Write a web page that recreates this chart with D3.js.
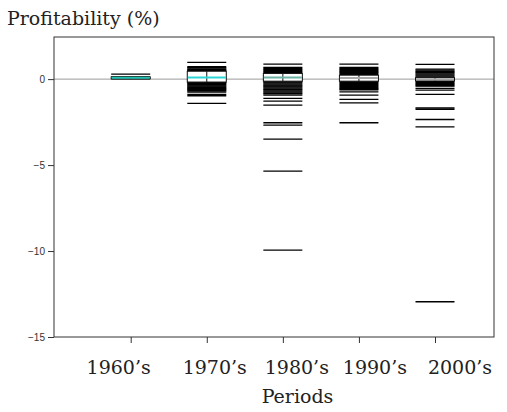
<!DOCTYPE html>
<html>
<head>
<meta charset="utf-8">
<script src="https://cdn.jsdelivr.net/npm/d3@7"></script>
<style>
  body { margin: 0; background: #fff; }
  svg { display: block; }
  .serif { font-family: "DejaVu Serif", serif; fill: #222; }
</style>
</head>
<body>
<svg id="chart" width="507" height="412"></svg>
<script>
// periods and per-firm profitability values (%)
const periods = ["1960’s", "1970’s", "1980’s", "1990’s", "2000’s"];

const values1960 = [0.29, 0.13, 0.08, 0.02];
const values1970 = [0.97, 0.72, 0.66, 0.6, 0.55, 0.5, 0.46, 0.3, 0.1, -0.05, -0.17, -0.2, -0.25, -0.3,
  -0.35, -0.4, -0.45, -0.5, -0.55, -0.6, -0.65, -0.7, -0.76, -0.89, -0.97, -1.41];
const values1980 = [0.87, 0.68, 0.62, 0.57, 0.51, 0.45, 0.4, 0.35, 0.2, 0.1, 0.0, -0.12, -0.17, -0.22,
  -0.28, -0.34, -0.4, -0.45, -0.51, -0.57, -0.62, -0.68, -0.74, -0.8, -0.85, -0.93, -1.12, -1.28,
  -1.51, -2.54, -2.68, -3.49, -5.35, -9.95];
const values1990 = [0.87, 0.68, 0.62, 0.57, 0.51, 0.45, 0.4, 0.34, 0.28, 0.2, 0.05, -0.1, -0.14, -0.2,
  -0.26, -0.32, -0.38, -0.44, -0.5, -0.56, -0.62, -0.74, -0.93, -1.18, -1.38, -2.54];
const values2000 = [0.86, 0.58, 0.52, 0.46, 0.4, 0.35, 0.29, 0.23, 0.17, 0.12, 0.08, 0.0, -0.1, -0.15,
  -0.2, -0.26, -0.31, -0.37, -0.41, -0.54, -0.64, -0.89, -1.68, -1.75, -2.35, -2.78, -12.95];

// box summary: lower quartile, median, upper quartile
const q1s = [0.02, -0.17, -0.12, -0.12, -0.1];
const medians = [0.08, 0.1, 0.1, 0.06, -0.02];
const q3s = [0.13, 0.46, 0.33, 0.23, 0.08];
const medianColors = ['#1fbfb0', '#2cd6d6', '#6cb3a6', '#a8a8a8', '#a8a8a8'];

const yTicks = [0, -5, -10, -15];
const labelNudge = [-12, 8, 14, 16, 25];   // the period labels sit off their ticks

const allValues = [values1960, values1970, values1980, values1990, values2000];

const svg = d3.select('#chart');
const plotLeft = 54, plotRight = 494, plotTop = 37, plotBottom = 337;
const halfW = 19.5;

const x = d3.scalePoint().domain(periods).range([130.7, 435]);
const y = d3.scaleLinear().domain([-15, 2.45]).range([plotBottom, plotTop]);

// zero reference line (behind marks)
svg.append('line')
  .attr('x1', plotLeft).attr('x2', plotRight)
  .attr('y1', y(0)).attr('y2', y(0))
  .attr('stroke', '#9a9a9a').attr('stroke-width', 1);

// one dash per observation
const groups = svg.selectAll('.period')
  .data(periods)
  .join('g')
  .attr('class', 'period');

groups.each(function(p, i) {
  const g = d3.select(this);
  const cx = x(p);
  g.selectAll('.obs')
    .data(allValues[i])
    .join('line')
    .attr('class', 'obs')
    .attr('x1', cx - halfW).attr('x2', cx + halfW)
    .attr('y1', d => y(d)).attr('y2', d => y(d))
    .attr('stroke', '#000').attr('stroke-width', 1.35);

  // box
  g.append('rect')
    .attr('x', cx - halfW)
    .attr('y', y(q3s[i]))
    .attr('width', halfW * 2)
    .attr('height', y(q1s[i]) - y(q3s[i]))
    .attr('fill', '#fff')
    .attr('stroke', '#111').attr('stroke-width', 1);
  g.append('line')
    .attr('x1', cx).attr('x2', cx)
    .attr('y1', y(q3s[i])).attr('y2', y(q1s[i]))
    .attr('stroke', '#111').attr('stroke-width', 1);
  g.append('line')
    .attr('x1', cx - halfW + 0.5).attr('x2', cx + halfW - 0.5)
    .attr('y1', y(medians[i])).attr('y2', y(medians[i]))
    .attr('stroke', medianColors[i]).attr('stroke-width', 2);
});

// frame
svg.append('rect')
  .attr('x', plotLeft).attr('y', plotTop)
  .attr('width', plotRight - plotLeft).attr('height', plotBottom - plotTop)
  .attr('fill', 'none').attr('stroke', '#333').attr('stroke-width', 1);

// axes
const yAxis = svg.append('g')
  .attr('transform', `translate(${plotLeft},0)`)
  .call(d3.axisLeft(y).tickValues(yTicks).tickSize(6).tickPadding(3));
yAxis.select('.domain').remove();
yAxis.selectAll('line').attr('stroke', '#333');
yAxis.selectAll('text')
  .attr('font-family', 'Liberation Sans, Arial, sans-serif')
  .attr('font-size', 10).attr('fill', '#333');

const xAxis = svg.append('g')
  .attr('transform', `translate(0,${plotBottom})`)
  .call(d3.axisBottom(x).tickSize(6).tickFormat(''));
xAxis.select('.domain').remove();
xAxis.selectAll('line').attr('stroke', '#333');

svg.selectAll('.plabel')
  .data(periods)
  .join('text')
  .attr('class', 'plabel serif')
  .attr('x', (d, i) => x(d) + labelNudge[i])
  .attr('y', 374)
  .attr('text-anchor', 'middle')
  .attr('font-size', 19)
  .text(d => d);

svg.append('text')
  .attr('class', 'serif')
  .attr('x', 297.5).attr('y', 403)
  .attr('text-anchor', 'middle')
  .attr('font-size', 19)
  .text('Periods');

svg.append('text')
  .attr('class', 'serif')
  .attr('x', 7).attr('y', 25)
  .attr('font-size', 19)
  .text('Profitability (%)');
</script>
</body>
</html>
